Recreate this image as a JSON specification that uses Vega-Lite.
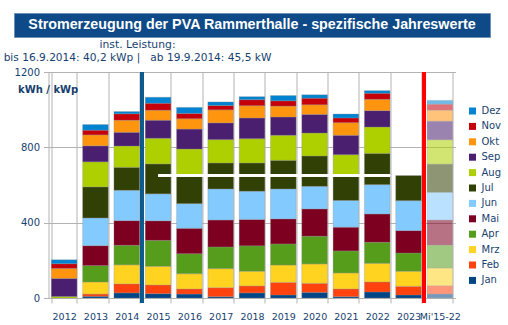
{
  "$schema": "https://vega.github.io/schema/vega-lite/v6.json",
  "background": "white",
  "padding": {"left": 3, "top": 12, "right": 0, "bottom": 0},
  "bounds": "flush",
  "center": true,
  "spacing": 35,
  "config": {"font": "DejaVu Sans", "view": {"stroke": null}},
  "resolve": {"legend": {"color": "independent", "opacity": "independent"}, "scale": {"color": "independent", "opacity": "independent"}},
  "datasets": {
    "pv": [
      {"j":"2012","m":8,"mon":"Aug","w":8,"typ":"Jahr"},{"j":"2012","m":9,"mon":"Sep","w":96,"typ":"Jahr"},{"j":"2012","m":10,"mon":"Okt","w":53,"typ":"Jahr"},{"j":"2012","m":11,"mon":"Nov","w":25,"typ":"Jahr"},{"j":"2012","m":12,"mon":"Dez","w":21,"typ":"Jahr"},
      {"j":"2013","m":1,"mon":"Jan","w":9,"typ":"Jahr"},{"j":"2013","m":2,"mon":"Feb","w":12,"typ":"Jahr"},{"j":"2013","m":3,"mon":"Mrz","w":64,"typ":"Jahr"},{"j":"2013","m":4,"mon":"Apr","w":87,"typ":"Jahr"},{"j":"2013","m":5,"mon":"Mai","w":106,"typ":"Jahr"},{"j":"2013","m":6,"mon":"Jun","w":147,"typ":"Jahr"},{"j":"2013","m":7,"mon":"Jul","w":165,"typ":"Jahr"},{"j":"2013","m":8,"mon":"Aug","w":133,"typ":"Jahr"},{"j":"2013","m":9,"mon":"Sep","w":85,"typ":"Jahr"},{"j":"2013","m":10,"mon":"Okt","w":58,"typ":"Jahr"},{"j":"2013","m":11,"mon":"Nov","w":25,"typ":"Jahr"},{"j":"2013","m":12,"mon":"Dez","w":30,"typ":"Jahr"},
      {"j":"2014","m":1,"mon":"Jan","w":27,"typ":"Jahr"},{"j":"2014","m":2,"mon":"Feb","w":48,"typ":"Jahr"},{"j":"2014","m":3,"mon":"Mrz","w":101,"typ":"Jahr"},{"j":"2014","m":4,"mon":"Apr","w":104,"typ":"Jahr"},{"j":"2014","m":5,"mon":"Mai","w":131,"typ":"Jahr"},{"j":"2014","m":6,"mon":"Jun","w":161,"typ":"Jahr"},{"j":"2014","m":7,"mon":"Jul","w":122,"typ":"Jahr"},{"j":"2014","m":8,"mon":"Aug","w":113,"typ":"Jahr"},{"j":"2014","m":9,"mon":"Sep","w":73,"typ":"Jahr"},{"j":"2014","m":10,"mon":"Okt","w":64,"typ":"Jahr"},{"j":"2014","m":11,"mon":"Nov","w":34,"typ":"Jahr"},{"j":"2014","m":12,"mon":"Dez","w":12,"typ":"Jahr"},
      {"j":"2015","m":1,"mon":"Jan","w":23,"typ":"Jahr"},{"j":"2015","m":2,"mon":"Feb","w":46,"typ":"Jahr"},{"j":"2015","m":3,"mon":"Mrz","w":99,"typ":"Jahr"},{"j":"2015","m":4,"mon":"Apr","w":138,"typ":"Jahr"},{"j":"2015","m":5,"mon":"Mai","w":104,"typ":"Jahr"},{"j":"2015","m":6,"mon":"Jun","w":143,"typ":"Jahr"},{"j":"2015","m":7,"mon":"Jul","w":159,"typ":"Jahr"},{"j":"2015","m":8,"mon":"Aug","w":136,"typ":"Jahr"},{"j":"2015","m":9,"mon":"Sep","w":96,"typ":"Jahr"},{"j":"2015","m":10,"mon":"Okt","w":53,"typ":"Jahr"},{"j":"2015","m":11,"mon":"Nov","w":37,"typ":"Jahr"},{"j":"2015","m":12,"mon":"Dez","w":32,"typ":"Jahr"},
      {"j":"2016","m":1,"mon":"Jan","w":21,"typ":"Jahr"},{"j":"2016","m":2,"mon":"Feb","w":27,"typ":"Jahr"},{"j":"2016","m":3,"mon":"Mrz","w":81,"typ":"Jahr"},{"j":"2016","m":4,"mon":"Apr","w":106,"typ":"Jahr"},{"j":"2016","m":5,"mon":"Mai","w":135,"typ":"Jahr"},{"j":"2016","m":6,"mon":"Jun","w":131,"typ":"Jahr"},{"j":"2016","m":7,"mon":"Jul","w":152,"typ":"Jahr"},{"j":"2016","m":8,"mon":"Aug","w":138,"typ":"Jahr"},{"j":"2016","m":9,"mon":"Sep","w":106,"typ":"Jahr"},{"j":"2016","m":10,"mon":"Okt","w":55,"typ":"Jahr"},{"j":"2016","m":11,"mon":"Nov","w":28,"typ":"Jahr"},{"j":"2016","m":12,"mon":"Dez","w":32,"typ":"Jahr"},
      {"j":"2017","m":1,"mon":"Jan","w":7,"typ":"Jahr"},{"j":"2017","m":2,"mon":"Feb","w":48,"typ":"Jahr"},{"j":"2017","m":3,"mon":"Mrz","w":101,"typ":"Jahr"},{"j":"2017","m":4,"mon":"Apr","w":115,"typ":"Jahr"},{"j":"2017","m":5,"mon":"Mai","w":143,"typ":"Jahr"},{"j":"2017","m":6,"mon":"Jun","w":165,"typ":"Jahr"},{"j":"2017","m":7,"mon":"Jul","w":138,"typ":"Jahr"},{"j":"2017","m":8,"mon":"Aug","w":124,"typ":"Jahr"},{"j":"2017","m":9,"mon":"Sep","w":89,"typ":"Jahr"},{"j":"2017","m":10,"mon":"Okt","w":69,"typ":"Jahr"},{"j":"2017","m":11,"mon":"Nov","w":23,"typ":"Jahr"},{"j":"2017","m":12,"mon":"Dez","w":19,"typ":"Jahr"},
      {"j":"2018","m":1,"mon":"Jan","w":27,"typ":"Jahr"},{"j":"2018","m":2,"mon":"Feb","w":37,"typ":"Jahr"},{"j":"2018","m":3,"mon":"Mrz","w":78,"typ":"Jahr"},{"j":"2018","m":4,"mon":"Apr","w":135,"typ":"Jahr"},{"j":"2018","m":5,"mon":"Mai","w":140,"typ":"Jahr"},{"j":"2018","m":6,"mon":"Jun","w":150,"typ":"Jahr"},{"j":"2018","m":7,"mon":"Jul","w":150,"typ":"Jahr"},{"j":"2018","m":8,"mon":"Aug","w":129,"typ":"Jahr"},{"j":"2018","m":9,"mon":"Sep","w":110,"typ":"Jahr"},{"j":"2018","m":10,"mon":"Okt","w":65,"typ":"Jahr"},{"j":"2018","m":11,"mon":"Nov","w":32,"typ":"Jahr"},{"j":"2018","m":12,"mon":"Dez","w":16,"typ":"Jahr"},
      {"j":"2019","m":1,"mon":"Jan","w":16,"typ":"Jahr"},{"j":"2019","m":2,"mon":"Feb","w":67,"typ":"Jahr"},{"j":"2019","m":3,"mon":"Mrz","w":92,"typ":"Jahr"},{"j":"2019","m":4,"mon":"Apr","w":112,"typ":"Jahr"},{"j":"2019","m":5,"mon":"Mai","w":133,"typ":"Jahr"},{"j":"2019","m":6,"mon":"Jun","w":159,"typ":"Jahr"},{"j":"2019","m":7,"mon":"Jul","w":152,"typ":"Jahr"},{"j":"2019","m":8,"mon":"Aug","w":133,"typ":"Jahr"},{"j":"2019","m":9,"mon":"Sep","w":97,"typ":"Jahr"},{"j":"2019","m":10,"mon":"Okt","w":58,"typ":"Jahr"},{"j":"2019","m":11,"mon":"Nov","w":28,"typ":"Jahr"},{"j":"2019","m":12,"mon":"Dez","w":28,"typ":"Jahr"},
      {"j":"2020","m":1,"mon":"Jan","w":30,"typ":"Jahr"},{"j":"2020","m":2,"mon":"Feb","w":48,"typ":"Jahr"},{"j":"2020","m":3,"mon":"Mrz","w":103,"typ":"Jahr"},{"j":"2020","m":4,"mon":"Apr","w":147,"typ":"Jahr"},{"j":"2020","m":5,"mon":"Mai","w":145,"typ":"Jahr"},{"j":"2020","m":6,"mon":"Jun","w":120,"typ":"Jahr"},{"j":"2020","m":7,"mon":"Jul","w":161,"typ":"Jahr"},{"j":"2020","m":8,"mon":"Aug","w":122,"typ":"Jahr"},{"j":"2020","m":9,"mon":"Sep","w":99,"typ":"Jahr"},{"j":"2020","m":10,"mon":"Okt","w":51,"typ":"Jahr"},{"j":"2020","m":11,"mon":"Nov","w":35,"typ":"Jahr"},{"j":"2020","m":12,"mon":"Dez","w":18,"typ":"Jahr"},
      {"j":"2021","m":1,"mon":"Jan","w":7,"typ":"Jahr"},{"j":"2021","m":2,"mon":"Feb","w":41,"typ":"Jahr"},{"j":"2021","m":3,"mon":"Mrz","w":85,"typ":"Jahr"},{"j":"2021","m":4,"mon":"Apr","w":117,"typ":"Jahr"},{"j":"2021","m":5,"mon":"Mai","w":126,"typ":"Jahr"},{"j":"2021","m":6,"mon":"Jun","w":142,"typ":"Jahr"},{"j":"2021","m":7,"mon":"Jul","w":131,"typ":"Jahr"},{"j":"2021","m":8,"mon":"Aug","w":112,"typ":"Jahr"},{"j":"2021","m":9,"mon":"Sep","w":103,"typ":"Jahr"},{"j":"2021","m":10,"mon":"Okt","w":67,"typ":"Jahr"},{"j":"2021","m":11,"mon":"Nov","w":25,"typ":"Jahr"},{"j":"2021","m":12,"mon":"Dez","w":21,"typ":"Jahr"},
      {"j":"2022","m":1,"mon":"Jan","w":32,"typ":"Jahr"},{"j":"2022","m":2,"mon":"Feb","w":53,"typ":"Jahr"},{"j":"2022","m":3,"mon":"Mrz","w":99,"typ":"Jahr"},{"j":"2022","m":4,"mon":"Apr","w":112,"typ":"Jahr"},{"j":"2022","m":5,"mon":"Mai","w":150,"typ":"Jahr"},{"j":"2022","m":6,"mon":"Jun","w":156,"typ":"Jahr"},{"j":"2022","m":7,"mon":"Jul","w":166,"typ":"Jahr"},{"j":"2022","m":8,"mon":"Aug","w":140,"typ":"Jahr"},{"j":"2022","m":9,"mon":"Sep","w":87,"typ":"Jahr"},{"j":"2022","m":10,"mon":"Okt","w":60,"typ":"Jahr"},{"j":"2022","m":11,"mon":"Nov","w":32,"typ":"Jahr"},{"j":"2022","m":12,"mon":"Dez","w":14,"typ":"Jahr"},
      {"j":"2023","m":1,"mon":"Jan","w":16,"typ":"Jahr"},{"j":"2023","m":2,"mon":"Feb","w":46,"typ":"Jahr"},{"j":"2023","m":3,"mon":"Mrz","w":80,"typ":"Jahr"},{"j":"2023","m":4,"mon":"Apr","w":97,"typ":"Jahr"},{"j":"2023","m":5,"mon":"Mai","w":119,"typ":"Jahr"},{"j":"2023","m":6,"mon":"Jun","w":159,"typ":"Jahr"},{"j":"2023","m":7,"mon":"Jul","w":133,"typ":"Jahr"},
      {"j":"Mi'15-22","m":1,"mon":"Jan","w":21,"typ":"Mittel"},{"j":"Mi'15-22","m":2,"mon":"Feb","w":44,"typ":"Mittel"},{"j":"Mi'15-22","m":3,"mon":"Mrz","w":94,"typ":"Mittel"},{"j":"Mi'15-22","m":4,"mon":"Apr","w":122,"typ":"Mittel"},{"j":"Mi'15-22","m":5,"mon":"Mai","w":133,"typ":"Mittel"},{"j":"Mi'15-22","m":6,"mon":"Jun","w":147,"typ":"Mittel"},{"j":"Mi'15-22","m":7,"mon":"Jul","w":150,"typ":"Mittel"},{"j":"Mi'15-22","m":8,"mon":"Aug","w":129,"typ":"Mittel"},{"j":"Mi'15-22","m":9,"mon":"Sep","w":99,"typ":"Mittel"},{"j":"Mi'15-22","m":10,"mon":"Okt","w":58,"typ":"Mittel"},{"j":"Mi'15-22","m":11,"mon":"Nov","w":32,"typ":"Mittel"},{"j":"Mi'15-22","m":12,"mon":"Dez","w":21,"typ":"Mittel"}
    ]
  },
  "vconcat": [
    {
      "width": 476,
      "height": 24,
      "view": {"fill": "#0e4a87", "stroke": "#6f8fb3", "strokeWidth": 1},
      "data": {"values": [{"t": "Stromerzeugung der PVA Rammerthalle - spezifische Jahreswerte"}]},
      "mark": {"type": "text", "color": "white", "fontWeight": "bold", "fontSize": 14.3, "font": "Liberation Sans Narrow, Liberation Sans, sans-serif", "align": "center", "baseline": "middle"},
      "encoding": {"text": {"field": "t", "type": "nominal"}}
    },
    {
      "width": 407,
      "height": 226,
      "title": {
        "text": "inst. Leistung:",
        "subtitle": "bis 16.9.2014: 40,2 kWp |\u00a0\u00a0\u00a0ab 19.9.2014: 45,5 kW",
        "anchor": "start",
        "frame": "group",
        "align": "center",
        "dx": 89,
        "offset": 3,
        "font": "DejaVu Sans",
        "fontSize": 10.8,
        "fontWeight": "normal",
        "color": "#173f70",
        "subtitleFont": "DejaVu Sans",
        "subtitleFontSize": 10.6,
        "subtitleColor": "#173f70",
        "subtitlePadding": 4
      },
      "data": {"name": "pv"},
      "layer": [
        {
          "mark": {"type": "bar", "stroke": "#8c8c8c", "strokeWidth": 0.5, "strokeOpacity": 0.6},
          "encoding": {
            "x": {
              "field": "j", "type": "ordinal",
              "scale": {"paddingInner": 0.18, "paddingOuter": 0.09},
              "axis": {"title": null, "tickBand": "extent", "labelAngle": 0, "labelFont": "DejaVu Sans", "labelFontSize": 9.5, "labelColor": "#173f70", "labelPadding": 8, "labelOverlap": false, "domainColor": "#b3b3b3", "tickColor": "#b3b3b3", "tickSize": 5, "grid": true, "gridColor": "#b3b3b3", "zindex": 0}
            },
            "y": {
              "field": "w", "type": "quantitative", "stack": "zero",
              "scale": {"domain": [0, 1200], "nice": false},
              "axis": {
                "orient": "left",
                "values": [0,50,100,150,200,250,300,350,400,450,500,550,600,650,700,750,800,850,900,950,1000,1050,1100,1150,1200],
                "labelExpr": "datum.value % 200 === 0 ? format(datum.value, 'd') : ''",
                "labelOverlap": false,
                "labelFontSize": {"condition": {"test": "datum.value % 200 === 0", "value": 10}, "value": 0},
                "grid": true,
                "gridColor": {"condition": {"test": "datum.value % 200 === 0", "value": "#b3b3b3"}, "value": "#e2e2e2"},
                "tickColor": "#b3b3b3",
                "tickOpacity": {"condition": {"test": "datum.value % 200 === 0", "value": 1}, "value": 0},
                "tickSize": 5,
                "domainColor": "#b3b3b3",
                "labelFont": "DejaVu Sans", "labelColor": "#173f70", "labelPadding": 4,
                "title": "kWh / kWp", "titleAngle": 0, "titleX": -31, "titleY": 17, "titleAlign": "left", "titleBaseline": "middle", "titleFont": "DejaVu Sans", "titleFontWeight": "bold", "titleFontSize": 10, "titleColor": "#173f70",
                "zindex": 0
              }
            },
            "color": {
              "field": "mon", "type": "nominal",
              "sort": ["Dez","Nov","Okt","Sep","Aug","Jul","Jun","Mai","Apr","Mrz","Feb","Jan"],
              "scale": {"domain": ["Dez","Nov","Okt","Sep","Aug","Jul","Jun","Mai","Apr","Mrz","Feb","Jan"], "range": ["#0084d1","#c5000b","#ff950e","#4b1f6f","#aecf00","#314004","#83caff","#7e0021","#579d1c","#ffd320","#ff420e","#004586"]},
              "legend": {"title": null, "orient": "none", "legendX": 419, "legendY": 34, "padding": 0, "symbolType": "square", "symbolSize": 49, "symbolStrokeWidth": 0, "labelFont": "DejaVu Sans", "labelFontSize": 10, "labelColor": "#173f70", "rowPadding": 5.4, "labelOffset": 4}
            },
            "order": {"field": "m", "type": "quantitative"},
            "opacity": {"field": "typ", "type": "nominal", "scale": {"domain": ["Jahr", "Mittel"], "range": [1, 0.55]}, "legend": null}
          }
        },
        {
          "mark": {"type": "rule", "color": "#0e5c8c", "strokeWidth": 3},
          "encoding": {"x": {"datum": "2014", "type": "ordinal", "bandPosition": 1.11}, "y": {"datum": 1200}, "y2": {"datum": -25}}
        },
        {
          "mark": {"type": "rule", "color": "#ff0000", "strokeWidth": 3},
          "encoding": {"x": {"datum": "2023", "type": "ordinal", "bandPosition": 1.11}, "y": {"datum": 1200}, "y2": {"datum": -25}}
        },
        {
          "mark": {"type": "rule", "color": "white", "strokeWidth": 1.5},
          "encoding": {"x": {"datum": "2015", "type": "ordinal", "bandPosition": 0.5}, "x2": {"datum": "2022", "bandPosition": 1}, "y": {"datum": 650}}
        }
      ]
    }
  ]
}
